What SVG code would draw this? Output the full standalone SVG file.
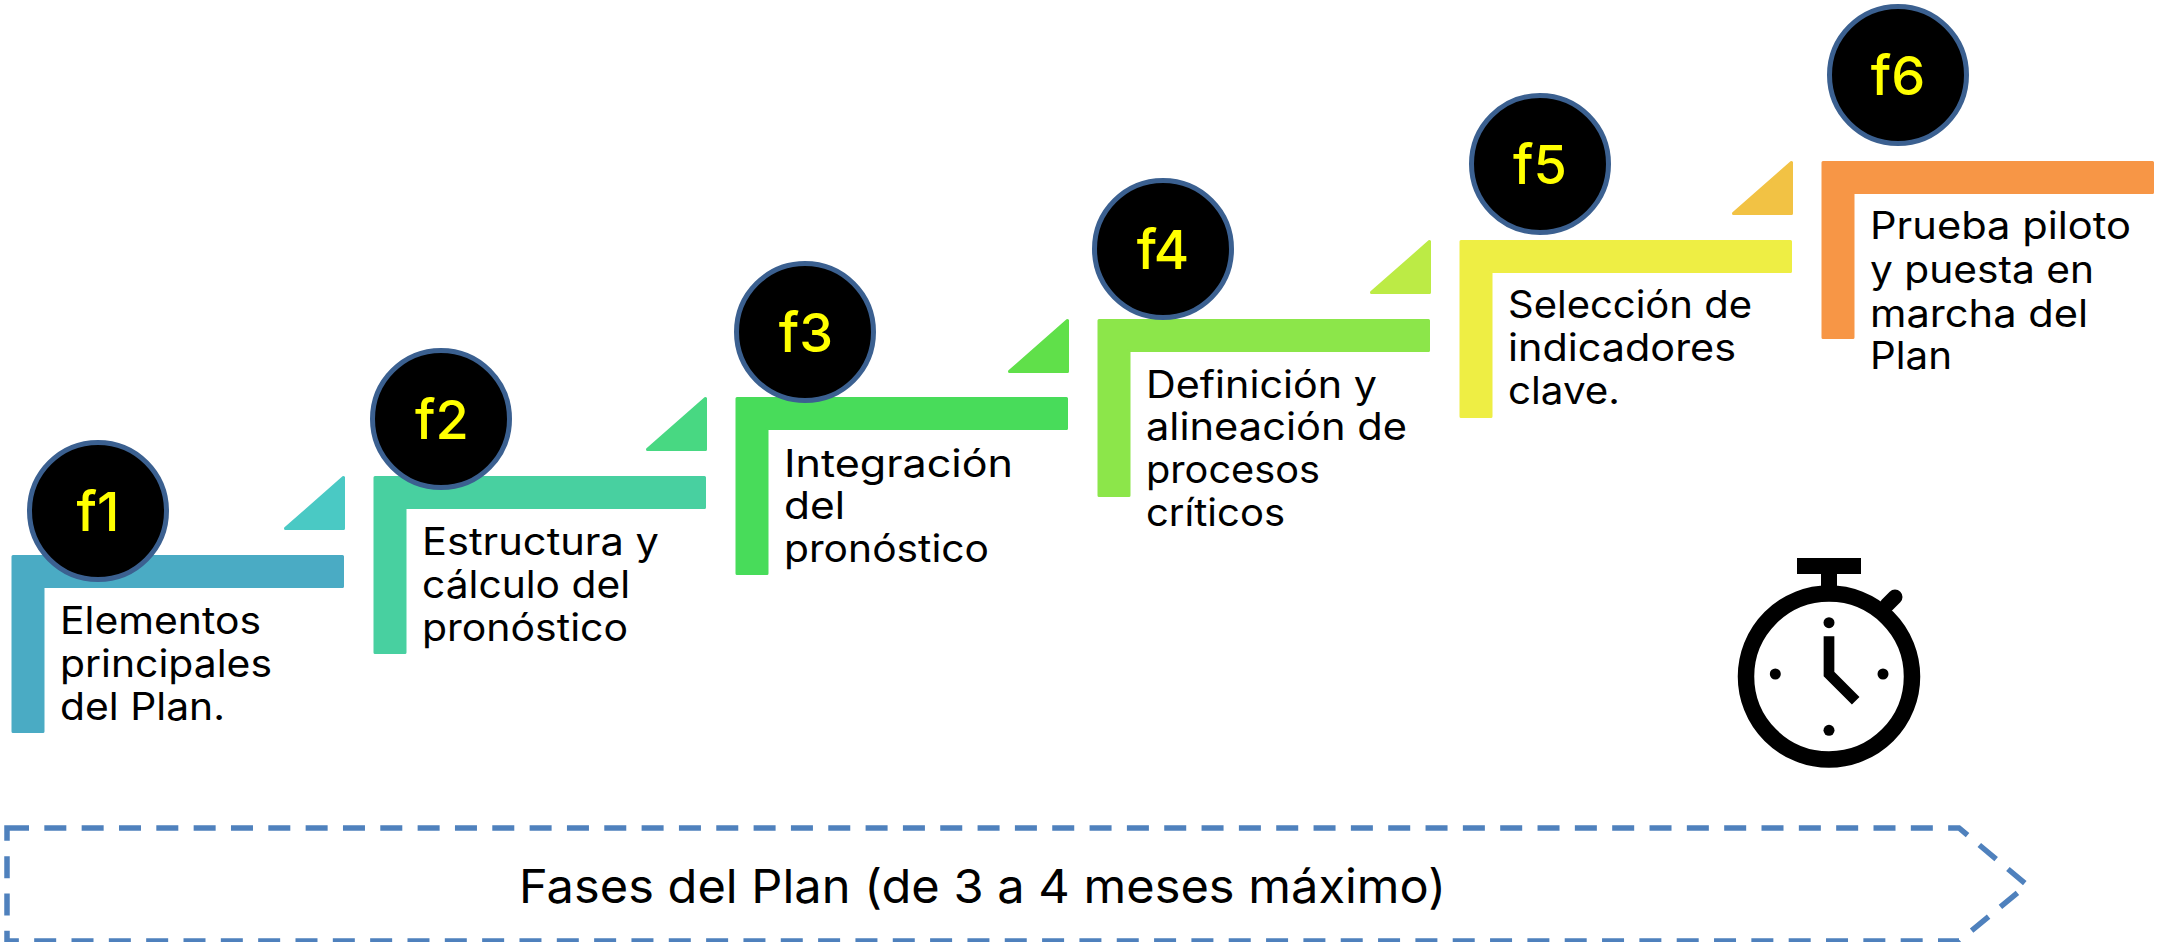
<svg xmlns="http://www.w3.org/2000/svg" width="2162" height="942" viewBox="0 0 2162 942">
<style>
text{font-family:"Inter","Noto Sans","Liberation Sans",sans-serif;fill:#000;font-weight:400}
.t{font-size:38px}
.f{font-size:54px;fill:#ff0;text-anchor:middle;font-weight:500}
.b{stroke-width:3;stroke-linejoin:round}
.c{fill:#000;stroke:#3b6090;stroke-width:5}
.k{fill:none;stroke:#000}
</style>
<rect width="2162" height="942" fill="#fff"/>
<g id="phase-arrow">
<path d="M7 828H1959L2027 885L1959 941H7Z" fill="none" stroke="#4f81bd" stroke-width="5.5" stroke-dasharray="22 15.33"/>
<text x="519" y="903" style="font-size:47px" textLength="927" lengthAdjust="spacingAndGlyphs">Fases del Plan (de 3 a 4 meses máximo)</text>
</g>
<g id="triangles">
<path class="b" d="M343.500 477.500V528.500H285.500Z" fill="#4ac9c4" stroke="#4ac9c4"/>
<path class="b" d="M705.500 398.500V449.500H647.500Z" fill="#48d882" stroke="#48d882"/>
<path class="b" d="M1067.500 320.500V371.500H1009.500Z" fill="#60e04a" stroke="#60e04a"/>
<path class="b" d="M1429.500 241.500V292.500H1371.500Z" fill="#bceb45" stroke="#bceb45"/>
<path class="b" d="M1791.500 162.500V213.500H1733.500Z" fill="#f2c244" stroke="#f2c244"/>
</g>
<g id="f1">
<path class="b" d="M13 556.500H342.500V586.500H43V731.500H13Z" fill="#4aabc4" stroke="#4aabc4"/>
<circle class="c" cx="98" cy="511" r="68.500"/>
<text class="f" x="98" y="531">f1</text>
<text class="t" x="60" y="634" textLength="201" lengthAdjust="spacingAndGlyphs">Elementos</text>
<text class="t" x="60" y="677" textLength="212" lengthAdjust="spacingAndGlyphs">principales</text>
<text class="t" x="60" y="720" textLength="165" lengthAdjust="spacingAndGlyphs">del Plan.</text>
</g>
<g id="f2">
<path class="b" d="M375 477.500H704.500V507.500H405V652.500H375Z" fill="#48d0a0" stroke="#48d0a0"/>
<circle class="c" cx="441" cy="419" r="68.500"/>
<text class="f" x="442" y="439">f2</text>
<text class="t" x="422" y="555" textLength="237" lengthAdjust="spacingAndGlyphs">Estructura y</text>
<text class="t" x="422" y="598" textLength="208" lengthAdjust="spacingAndGlyphs">cálculo del</text>
<text class="t" x="422" y="641" textLength="206" lengthAdjust="spacingAndGlyphs">pronóstico</text>
</g>
<g id="f3">
<path class="b" d="M737 398.500H1066.500V428.500H767V573.500H737Z" fill="#48dc5a" stroke="#48dc5a"/>
<circle class="c" cx="805" cy="332" r="68.500"/>
<text class="f" x="806" y="352">f3</text>
<text class="t" x="784" y="477" textLength="229" lengthAdjust="spacingAndGlyphs">Integración</text>
<text class="t" x="784" y="519" textLength="61" lengthAdjust="spacingAndGlyphs">del</text>
<text class="t" x="784" y="562" textLength="205" lengthAdjust="spacingAndGlyphs">pronóstico</text>
</g>
<g id="f4">
<path class="b" d="M1099 320.500H1428.500V350.500H1129V495.500H1099Z" fill="#8ce64a" stroke="#8ce64a"/>
<circle class="c" cx="1163" cy="249" r="68.500"/>
<text class="f" x="1163" y="269">f4</text>
<text class="t" x="1146" y="398" textLength="231" lengthAdjust="spacingAndGlyphs">Definición y</text>
<text class="t" x="1146" y="440" textLength="261" lengthAdjust="spacingAndGlyphs">alineación de</text>
<text class="t" x="1146" y="483" textLength="174" lengthAdjust="spacingAndGlyphs">procesos</text>
<text class="t" x="1146" y="526" textLength="139" lengthAdjust="spacingAndGlyphs">críticos</text>
</g>
<g id="f5">
<path class="b" d="M1461 241.500H1790.500V271.500H1491V416.500H1461Z" fill="#eeee44" stroke="#eeee44"/>
<circle class="c" cx="1540" cy="164" r="68.500"/>
<text class="f" x="1540" y="184">f5</text>
<text class="t" x="1508" y="318" textLength="244" lengthAdjust="spacingAndGlyphs">Selección de</text>
<text class="t" x="1508" y="361" textLength="228" lengthAdjust="spacingAndGlyphs">indicadores</text>
<text class="t" x="1508" y="404" textLength="112" lengthAdjust="spacingAndGlyphs">clave.</text>
</g>
<g id="f6">
<path class="b" d="M1823 162.500H2152.500V192.500H1853V337.500H1823Z" fill="#f79646" stroke="#f79646"/>
<circle class="c" cx="1898" cy="75" r="68.500"/>
<text class="f" x="1898" y="95">f6</text>
<text class="t" x="1870" y="239" textLength="261" lengthAdjust="spacingAndGlyphs">Prueba piloto</text>
<text class="t" x="1870" y="283" textLength="224" lengthAdjust="spacingAndGlyphs">y puesta en</text>
<text class="t" x="1870" y="327" textLength="218" lengthAdjust="spacingAndGlyphs">marcha del</text>
<text class="t" x="1870" y="369" textLength="82" lengthAdjust="spacingAndGlyphs">Plan</text>
</g>
<g id="stopwatch">
<rect x="1797" y="558" width="64" height="16"/>
<rect x="1821" y="570" width="16" height="24"/>
<circle class="k" cx="1829" cy="676.500" r="83" stroke-width="16.500"/>
<path class="k" d="M1887 605L1895 597" stroke-width="15" stroke-linecap="round"/>
<circle cx="1829" cy="622.700" r="5.500"/>
<circle cx="1829" cy="730.300" r="5.500"/>
<circle cx="1775.300" cy="674" r="5.500"/>
<circle cx="1883" cy="674" r="5.500"/>
<path class="k" d="M1829 636.300V674L1855.700 700.700" stroke-width="10.700"/>
</g>
<g id="connectors"></g>
</svg>
